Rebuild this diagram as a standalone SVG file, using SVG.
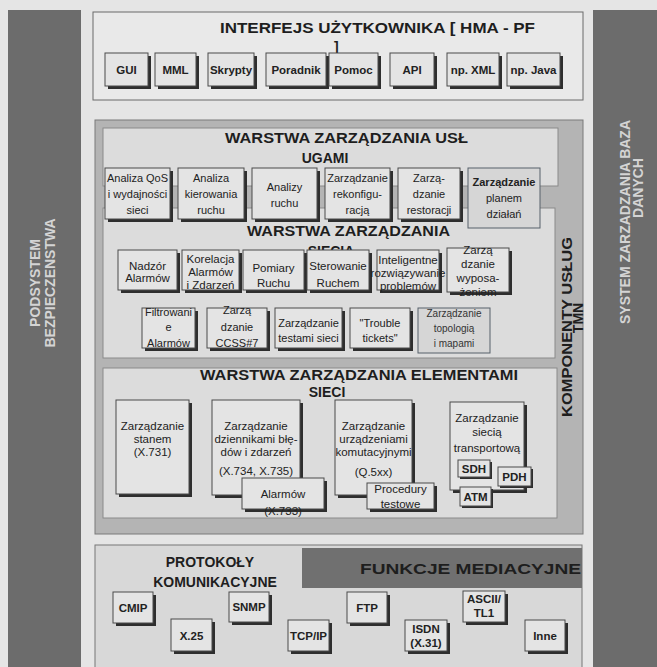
<svg xmlns="http://www.w3.org/2000/svg" width="657" height="667" viewBox="0 0 657 667">
<style>
text{font-family:"Liberation Sans",Arial,sans-serif;fill:#222}
.side{fill:#6c6c6c}
.stx{font-size:14px;font-weight:bold;fill:#d4d4d4}
.ttl{font-size:14px;font-weight:bold;fill:#1e1e1e}
.sh{fill:#2e2e2e}
.bx{fill:#e4e4e4;stroke:#4a4a4a;stroke-width:1}
.thin{fill:#d6d6d6;stroke:#56606a;stroke-width:1}
.bt{font-size:11.5px;font-weight:bold;text-anchor:middle}
.t{font-size:11px;text-anchor:middle}
.t2{font-size:11.5px;text-anchor:middle}
.t3{font-size:10px;text-anchor:middle;fill:#333}
</style>
<rect x="0" y="0" width="657" height="667" fill="#e5e5e5"/>

<g id="security">
<rect class="side" x="8" y="10" width="73" height="657"/>
<text class="stx" transform="translate(40,283) rotate(-90)" text-anchor="middle">PODSYSTEM</text>
<text class="stx" transform="translate(55,283) rotate(-90)" text-anchor="middle">BEZPIECZENSTWA</text>
</g>

<g id="database">
<rect class="side" x="593" y="10" width="64" height="657"/>
<text class="stx" transform="translate(630,222) rotate(-90)" text-anchor="middle">SYSTEM  ZARZADZANIA  BAZA</text>
<text class="stx" transform="translate(643,188) rotate(-90)" text-anchor="middle">DANYCH</text>
</g>

<g id="ui">
<rect x="93" y="12" width="490" height="88" fill="#e9e9e9" stroke="#6a6a6a"/>
<text class="ttl" x="220" y="33" textLength="315" lengthAdjust="spacingAndGlyphs" font-size="15">INTERFEJS  UŻYTKOWNIKA  [ HMA - PF</text>
<text class="ttl" x="334" y="52" font-size="13">]</text>
<g id="ui-gui"><rect class="sh" x="108" y="56" width="43" height="33"/><rect class="bx" x="105" y="53" width="43" height="33"/><text class="bt" x="126.5" y="74">GUI</text></g>
<g id="ui-mml"><rect class="sh" x="158" y="56" width="41" height="33"/><rect class="bx" x="155" y="53" width="41" height="33"/><text class="bt" x="175.5" y="74">MML</text></g>
<g id="ui-skrypty"><rect class="sh" x="211" y="56" width="46" height="33"/><rect class="bx" x="208" y="53" width="46" height="33"/><text class="bt" x="231" y="74">Skrypty</text></g>
<g id="ui-poradnik"><rect class="sh" x="269" y="56" width="60" height="33"/><rect class="bx" x="266" y="53" width="60" height="33"/><text class="bt" x="296" y="74">Poradnik</text></g>
<g id="ui-pomoc"><rect class="sh" x="332" y="56" width="49" height="33"/><rect class="bx" x="329" y="53" width="49" height="33"/><text class="bt" x="353.5" y="74">Pomoc</text></g>
<g id="ui-api"><rect class="sh" x="393" y="56" width="44" height="33"/><rect class="bx" x="390" y="53" width="44" height="33"/><text class="bt" x="412" y="74">API</text></g>
<g id="ui-xml"><rect class="sh" x="450" y="56" width="52" height="33"/><rect class="bx" x="447" y="53" width="52" height="33"/><text class="bt" x="473" y="74">np. XML</text></g>
<g id="ui-java"><rect class="sh" x="510" y="56" width="53" height="33"/><rect class="bx" x="507" y="53" width="53" height="33"/><text class="bt" x="533.5" y="74">np. Java</text></g>
</g>

<g id="tmn">
<rect x="95" y="120" width="488" height="414" fill="#b4b4b4" stroke="#7a7a7a"/>
<text class="ttl" transform="translate(572,327) rotate(-90)" text-anchor="middle" font-size="16" textLength="180" lengthAdjust="spacingAndGlyphs" fill="#333">KOMPONENTY  USŁUG</text>
<text class="ttl" transform="translate(583,318) rotate(-90)" text-anchor="middle" font-size="12" fill="#333">TMN</text>
</g>

<g id="layer-network">
<rect x="103" y="208" width="452" height="150" fill="#dcdcdc" stroke="#8a8a8a"/>
</g>

<g id="layer-services">
<rect x="103" y="128" width="455" height="58" fill="#dcdcdc" stroke="#8a8a8a"/>
<text class="ttl" x="225" y="143" textLength="243" lengthAdjust="spacingAndGlyphs" font-size="15">WARSTWA ZARZĄDZANIA USŁ</text>
<text class="ttl" x="325" y="163" text-anchor="middle" font-size="15">UGAMI</text>
</g>

<g id="s-qos"><rect class="sh" x="108" y="171" width="65" height="51"/><rect class="bx" x="105" y="168" width="65" height="51"/>
<text class="t" x="137.5" y="182">Analiza QoS</text><text class="t" x="137.5" y="198">i wydajności</text><text class="t" x="137.5" y="214">sieci</text></g>
<g id="s-kier"><rect class="sh" x="181" y="171" width="66" height="51"/><rect class="bx" x="178" y="168" width="66" height="51"/>
<text class="t" x="211" y="182">Analiza</text><text class="t" x="211" y="198">kierowania</text><text class="t" x="211" y="214">ruchu</text></g>
<g id="s-ruch"><rect class="sh" x="255" y="171" width="65" height="51"/><rect class="bx" x="252" y="168" width="65" height="51"/>
<text class="t" x="284.5" y="191">Analizy</text><text class="t" x="284.5" y="207">ruchu</text></g>
<g id="s-rekonf"><rect class="sh" x="328" y="171" width="65" height="51"/><rect class="bx" x="325" y="168" width="65" height="51"/>
<text class="t" x="357.5" y="182">Zarządzanie</text><text class="t" x="357.5" y="198">rekonfigu-</text><text class="t" x="357.5" y="214">racją</text></g>
<g id="s-rest"><rect class="sh" x="401" y="171" width="62" height="51"/><rect class="bx" x="398" y="168" width="62" height="51"/>
<text class="t" x="429" y="182">Zarzą-</text><text class="t" x="429" y="198">dzanie</text><text class="t" x="429" y="214">restoracji</text></g>
<g id="s-plan"><rect class="thin" x="468" y="168" width="72" height="60"/>
<text class="t" x="504" y="186" font-weight="bold" fill="#333">Zarządzanie</text><text class="t" x="504" y="202" fill="#333">planem</text><text class="t" x="504" y="218" fill="#333">działań</text></g>

<g id="layer-network-title">
<text class="ttl" x="247" y="236" textLength="203" lengthAdjust="spacingAndGlyphs" font-size="15">WARSTWA ZARZĄDZANIA</text>
<text class="ttl" x="331" y="256" text-anchor="middle" font-size="15">SIECIĄ</text>
</g>

<g id="n-nadzor"><rect class="sh" x="121" y="253" width="59" height="40"/><rect class="bx" x="118" y="250" width="59" height="40"/>
<text class="t2" x="147.5" y="270">Nadzór</text><text class="t2" x="147.5" y="282">Alarmów</text></g>
<g id="n-korel"><rect class="sh" x="185" y="253" width="57" height="40"/><rect class="bx" x="182" y="250" width="57" height="40"/>
<text class="t2" x="210.5" y="263">Korelacja</text><text class="t2" x="210.5" y="276">Alarmów</text><text class="t2" x="210.5" y="289">i Zdarzeń</text></g>
<g id="n-pomiary"><rect class="sh" x="246" y="253" width="61" height="40"/><rect class="bx" x="243" y="250" width="61" height="40"/>
<text class="t2" x="273.5" y="272">Pomiary</text><text class="t2" x="273.5" y="287">Ruchu</text></g>
<g id="n-sterow"><rect class="sh" x="310" y="253" width="62" height="40"/><rect class="bx" x="307" y="250" width="62" height="40"/>
<text class="t2" x="338" y="270">Sterowanie</text><text class="t2" x="338" y="287">Ruchem</text></g>
<g id="n-intel"><rect class="sh" x="380" y="253" width="62" height="40"/><rect class="bx" x="377" y="250" width="62" height="40"/>
<text class="t2" x="408" y="264">Inteligentne</text><text class="t2" x="408" y="277">rozwiązywanie</text><text class="t2" x="408" y="290">problemów</text></g>
<g id="n-wypos"><rect class="sh" x="450" y="251" width="62" height="44"/><rect class="bx" x="447" y="248" width="62" height="44"/>
<text class="t2" x="478" y="254">Zarzą</text><text class="t2" x="478" y="268">dzanie</text><text class="t2" x="478" y="282">wyposa-</text><text class="t2" x="478" y="296">żeniem</text></g>

<g id="n-filtr"><rect class="sh" x="145" y="311" width="53" height="40"/><rect class="bx" x="142" y="308" width="53" height="40"/>
<text class="t" x="168.5" y="316" fill="#555">Filtrowani</text><text class="t" x="168.5" y="331" fill="#555">e</text><text class="t" x="168.5" y="347" fill="#555">Alarmów</text></g>
<g id="n-ccss"><rect class="sh" x="210" y="311" width="60" height="40"/><rect class="bx" x="207" y="308" width="60" height="40"/>
<text class="t" x="237" y="314">Zarzą</text><text class="t" x="237" y="331">dzanie</text><text class="t" x="237" y="347">CCSS#7</text></g>
<g id="n-testy"><rect class="sh" x="278" y="311" width="67" height="40"/><rect class="bx" x="275" y="308" width="67" height="40"/>
<text class="t" x="308.5" y="327">Zarządzanie</text><text class="t" x="308.5" y="342">testami sieci</text></g>
<g id="n-trouble"><rect class="sh" x="353" y="311" width="60" height="40"/><rect class="bx" x="350" y="308" width="60" height="40"/>
<text class="t" x="380" y="327">"Trouble</text><text class="t" x="380" y="342">tickets"</text></g>
<g id="n-topo"><rect class="thin" x="418" y="308" width="72" height="45"/>
<text class="t3" x="454" y="317">Zarządzanie</text><text class="t3" x="454" y="332">topologią</text><text class="t3" x="454" y="347">i mapami</text></g>

<g id="layer-elements">
<rect x="103" y="368" width="454" height="150" fill="#dcdcdc" stroke="#8a8a8a"/>
<text class="ttl" x="200" y="380" textLength="318" lengthAdjust="spacingAndGlyphs" font-size="15">WARSTWA ZARZĄDZANIA ELEMENTAMI</text>
<text class="ttl" x="327" y="397" text-anchor="middle" font-size="15">SIECI</text>
</g>

<g id="e-stan"><rect class="sh" x="119" y="403" width="73" height="94"/><rect class="bx" x="116" y="400" width="73" height="94"/>
<text class="t2" x="152.5" y="430">Zarządzanie</text><text class="t2" x="152.5" y="443">stanem</text><text class="t2" x="152.5" y="456">(X.731)</text></g>
<g id="e-dzienn"><rect class="sh" x="215" y="403" width="88" height="95"/><rect class="bx" x="212" y="400" width="88" height="95"/>
<text class="t2" x="256" y="430">Zarządzanie</text><text class="t2" x="256" y="443">dziennikami błę-</text><text class="t2" x="256" y="456">dów i zdarzeń</text><text class="t2" x="256" y="475">(X.734, X.735)</text></g>
<g id="e-alarm"><rect class="sh" x="245" y="481" width="82" height="31"/><rect class="bx" x="242" y="478" width="82" height="31"/>
<text class="t2" x="283" y="498">Alarmów</text><text class="t2" x="283" y="515">(X.733)</text></g>
<g id="e-komut"><rect class="sh" x="338" y="403" width="77" height="95"/><rect class="bx" x="335" y="400" width="77" height="95"/>
<text class="t2" x="373.5" y="430">Zarządzanie</text><text class="t2" x="373.5" y="443">urządzeniami</text><text class="t2" x="373.5" y="456">komutacyjnymi</text><text class="t2" x="373.5" y="476">(Q.5xx)</text></g>
<g id="e-proc"><rect class="sh" x="370" y="486" width="67" height="26"/><rect class="bx" x="367" y="483" width="67" height="26"/>
<text class="t2" x="400.5" y="493">Procedury</text><text class="t2" x="400.5" y="508">testowe</text></g>
<g id="e-transp"><rect class="sh" x="453" y="405" width="74" height="88"/><rect class="bx" x="450" y="402" width="74" height="88"/>
<text class="t2" x="487" y="422">Zarządzanie</text><text class="t2" x="487" y="436">siecią</text><text class="t2" x="487" y="452">transportową</text></g>
<g id="e-sdh"><rect class="sh" x="460" y="462" width="32" height="17"/><rect class="bx" x="458" y="460" width="32" height="17"/><text class="bt" x="474" y="473">SDH</text></g>
<g id="e-pdh"><rect class="sh" x="500" y="469" width="33" height="19"/><rect class="bx" x="498" y="467" width="33" height="19"/><text class="bt" x="514.5" y="481">PDH</text></g>
<g id="e-atm"><rect class="sh" x="462" y="489" width="31" height="19"/><rect class="bx" x="460" y="487" width="31" height="19"/><text class="bt" x="475.5" y="501">ATM</text></g>

<g id="protocols">
<rect x="95" y="545" width="487" height="125" fill="#d8d8d8" stroke="#777"/>
<rect x="302" y="548" width="280" height="40" fill="#707070"/>
<text class="ttl" x="210" y="567" text-anchor="middle" font-size="15">PROTOKOŁY</text>
<text class="ttl" x="215" y="587" text-anchor="middle" font-size="15">KOMUNIKACYJNE</text>
<text class="ttl" x="360" y="574" textLength="221" lengthAdjust="spacingAndGlyphs" font-size="16" fill="#dadada">FUNKCJE MEDIACYJNE</text>
</g>
<g id="p-cmip"><rect class="sh" x="116" y="595" width="40" height="31"/><rect class="bx" x="113" y="592" width="40" height="31"/><text class="bt" x="133" y="612">CMIP</text></g>
<g id="p-x25"><rect class="sh" x="174" y="622" width="41" height="32"/><rect class="bx" x="171" y="619" width="41" height="32"/><text class="bt" x="191.5" y="640">X.25</text></g>
<g id="p-snmp"><rect class="sh" x="232" y="595" width="40" height="30"/><rect class="bx" x="229" y="592" width="40" height="30"/><text class="bt" x="249" y="611">SNMP</text></g>
<g id="p-tcp"><rect class="sh" x="291" y="623" width="41" height="31"/><rect class="bx" x="288" y="620" width="41" height="31"/><text class="bt" x="308.5" y="640">TCP/IP</text></g>
<g id="p-ftp"><rect class="sh" x="350" y="595" width="40" height="31"/><rect class="bx" x="347" y="592" width="40" height="31"/><text class="bt" x="367" y="612">FTP</text></g>
<g id="p-isdn"><rect class="sh" x="408" y="623" width="42" height="31"/><rect class="bx" x="405" y="620" width="42" height="31"/><text class="bt" x="426" y="633">ISDN</text><text class="bt" x="426" y="647">(X.31)</text></g>
<g id="p-ascii"><rect class="sh" x="466" y="594" width="42" height="31"/><rect class="bx" x="463" y="591" width="42" height="31"/><text class="bt" x="484" y="603">ASCII/</text><text class="bt" x="484" y="617">TL1</text></g>
<g id="p-inne"><rect class="sh" x="528" y="623" width="40" height="31"/><rect class="bx" x="525" y="620" width="40" height="31"/><text class="bt" x="545" y="640">Inne</text></g>
<g id="connectors"></g>
</svg>
